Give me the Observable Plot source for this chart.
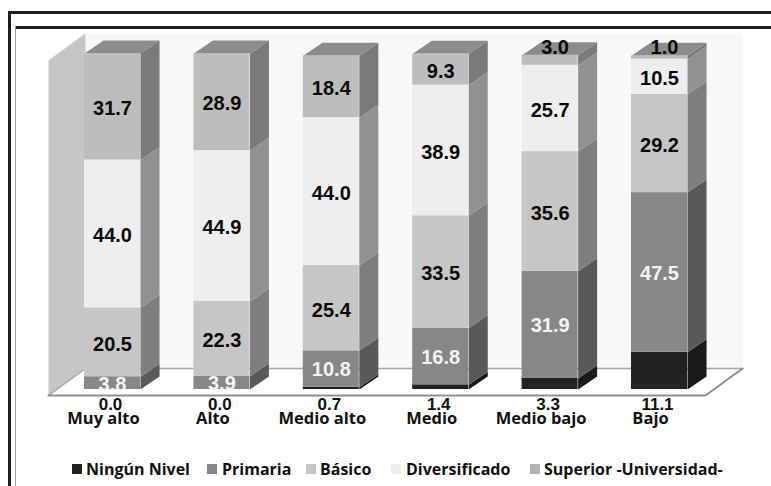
<!DOCTYPE html>
<html><head><meta charset="utf-8">
<script src="https://cdn.jsdelivr.net/npm/d3@7"></script>
<script src="https://cdn.jsdelivr.net/npm/@observablehq/plot@0.6"></script>
<style>
html,body{margin:0;padding:0;background:#fff;overflow:hidden}
#page{position:relative;width:771px;height:486px;overflow:hidden}
#chart{position:absolute;left:0;top:0}
.rule{position:absolute;background:#1e1e1e}
#legend{position:absolute;left:0;top:459px;width:771px;height:20px;font:700 16px "Open Sans",sans-serif;color:#111}
#legend span.item{position:absolute;top:0;white-space:nowrap;line-height:20px}
#legend i{position:absolute;top:5px;width:10px;height:10px}
</style></head><body>
<div id="page">
<div id="chart"></div>
<div class="rule" style="left:8px;top:11px;width:763px;height:3px"></div>
<div class="rule" style="left:8px;top:11px;width:3px;height:475px"></div>
<div class="rule" style="left:15px;top:26px;width:756px;height:3px"></div>
<div class="rule" style="left:15px;top:26px;width:1px;height:460px;background:#999"></div>
<div id="legend"></div>
</div>
<script>
const categories = ["Muy alto","Alto","Medio alto","Medio","Medio bajo","Bajo"];
const levels = ["Ningún Nivel","Primaria","Básico","Diversificado","Superior -Universidad-"];
const ningunNivel = [0.0,0.0,0.7,1.4,3.3,11.1];
const primaria = [3.8,3.9,10.8,16.8,31.9,47.5];
const basico = [20.5,22.3,25.4,33.5,35.6,29.2];
const diversificado = [44.0,44.9,44.0,38.9,25.7,10.5];
const superior = [31.7,28.9,18.4,9.3,3.0,1.0];
const series = [ningunNivel,primaria,basico,diversificado,superior];

const frontColors = ["#222222","#878787","#c6c6c6","#eeeeee","#bdbdbd"];
const sideColors = ["#1a1a1a","#595959","#7e7e7e","#919191","#7a7a7a"];
const legendColors = ["#222222","#878787","#c6c6c6","#eeeeee","#b4b4b4"];
const topColor = "#8c8c8c";
const halfBar = 0.256, depthX = 0.174, depthY = 3.87;

const segments = [];
categories.forEach((c,i)=>{
  let base = 0;
  series.forEach((s,k)=>{
    segments.push({i,k,level:levels[k],value:s[i],lo:base,hi:base+s[i]});
    base += s[i];
  });
});
const tops = categories.map((c,i)=>d3.sum(series,s=>s[i]));

const poly = (id,pts)=>pts.map(([x,y])=>({id,x,y}));
const sides = segments.filter(d=>d.value>0).flatMap(d=>{
  const r=d.i+halfBar;
  return poly(`s${d.i}-${d.k}`,[[r,d.lo],[r+depthX,d.lo+depthY],[r+depthX,d.hi+depthY],[r,d.hi],[r,d.lo]]).map(p=>({...p,fill:sideColors[d.k]}));
});
const topFaces = tops.flatMap((t,i)=>{
  const l=i-halfBar,r=i+halfBar;
  return poly(`t${i}`,[[l,t],[r,t],[r+depthX,t+depthY],[l+depthX,t+depthY],[l,t]]);
});
const wallLeft = poly("wall",[[-0.585,-1.79],[-0.247,6.25],[-0.247,106],[-0.585,97.9],[-0.585,-1.79]]);
const backWall = poly("back",[[-0.247,6.25],[5.76,6.25],[5.76,106],[-0.247,106],[-0.247,6.25]]);
const floorEdge = poly("floor",[[-0.585,-1.79],[5.42,-1.79],[5.76,6.25]]);
const backEdge = poly("backEdge",[[-0.585,-1.79],[-0.247,6.25],[5.76,6.25]]);

const small = d=>d.k===4&&d.value<5;
const labelled = segments.filter(d=>d.k>0&&!small(d));
const white = d=>d.k===1;
const valueFont = {fontFamily:"Liberation Sans",fontWeight:700,fontSize:20};

const plot = Plot.plot({
  width:771,height:440,
  marginLeft:0,marginRight:0,marginTop:0,marginBottom:45,
  style:{background:"transparent",overflow:"visible"},
  x:{domain:[0,5],range:[112,659]},
  y:{domain:[0,100],range:[389,53],axis:null},
  marks:[
    Plot.line(backWall,{x:"x",y:"y",z:"id",fill:"#f8f8f8",stroke:null}),
    Plot.line(wallLeft,{x:"x",y:"y",z:"id",fill:"#c6c6c6",stroke:null}),
    Plot.line(backEdge,{x:"x",y:"y",z:"id",stroke:"#a8a8a8",strokeWidth:1.5}),
    Plot.line(sides,{x:"x",y:"y",z:"id",fill:"fill",stroke:null}),
    Plot.line(topFaces,{x:"x",y:"y",z:"id",fill:topColor,stroke:null}),
    Plot.rect(segments.filter(d=>d.value>0),{x1:d=>d.i-halfBar,x2:d=>d.i+halfBar,y1:"lo",y2:"hi",fill:d=>frontColors[d.k],stroke:null,inset:0}),
    Plot.line(floorEdge,{x:"x",y:"y",z:"id",stroke:"#8f8f8f",strokeWidth:2}),
    Plot.text(labelled.filter(d=>!white(d)),{x:"i",y:d=>(d.lo+d.hi)/2,text:d=>d.value.toFixed(1),fill:"#0a0a0a",dy:2,...valueFont}),
    Plot.text(labelled.filter(white),{x:"i",y:d=>(d.lo+d.hi)/2,text:d=>d.value.toFixed(1),fill:"#f4f4f4",dy:1,...valueFont}),
    Plot.text(segments.filter(small),{x:"i",y:"hi",text:d=>d.value.toFixed(1),fill:"#0a0a0a",dx:5,dy:-8,...valueFont}),
    Plot.text(segments.filter(d=>d.k===0),{x:"i",y:0,text:d=>d.value.toFixed(1),fill:"#111",dx:-2,dy:15,fontFamily:"Liberation Sans",fontWeight:700,fontSize:17}),
    Plot.axisX({ticks:d3.range(6),tickFormat:i=>categories[i],tickSize:0,tickPadding:17,dx:-9,label:null,fontFamily:"Open Sans",fontWeight:700,fontSize:16.5,fill:"#111"})
  ]
});
document.getElementById("chart").append(plot);

const legendLayout = [[72,86],[207,222],[306,320],[391,406],[530,544]];
const lg = document.getElementById("legend");
levels.forEach((t,k)=>{
  const sw=document.createElement("i");
  sw.style.left=legendLayout[k][0]+"px";sw.style.background=legendColors[k];
  const sp=document.createElement("span");
  sp.className="item";sp.style.left=legendLayout[k][1]+"px";sp.textContent=t;
  lg.append(sw,sp);
});
</script>
</body></html>
